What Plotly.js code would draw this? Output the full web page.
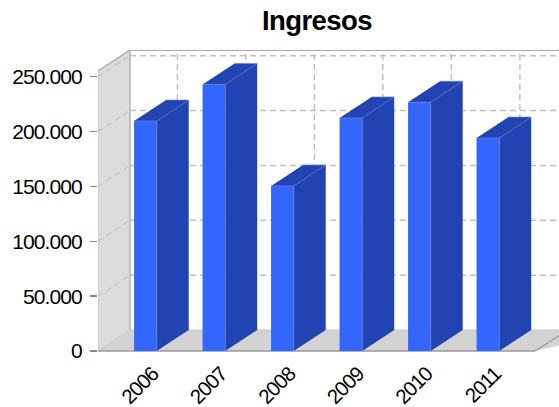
<!DOCTYPE html>
<html><head><meta charset="utf-8">
<script src="https://cdn.plot.ly/plotly-3.0.1.min.js"></script>
<style>html,body{margin:0;padding:0;background:#fff}
.xtick text,.ytick text{letter-spacing:-0.9px}
.gtitle{letter-spacing:-0.6px}</style></head>
<body><div id="chart" style="width:559px;height:407px"></div>
<script>
const years = [2006, 2007, 2008, 2009, 2010, 2011];
const ingresos = [209600, 243000, 150400, 212400, 226700, 194100];
const yTickVals = [0, 50000, 100000, 150000, 200000, 250000];
const yTickText = ['0', '50.000', '100.000', '150.000', '200.000', '250.000'];

const depthX = 0.467, depthY = 19140, barW = 0.331;
const xL = 2005.308, xR = 2011.692, yTopFront = 255200;
const xMax = xL + 461 / 68.5, yMin = -1800, yMax = yTopFront + depthY;

function pathOf(pts) { return 'M' + pts.map(p => p[0] + ',' + p[1]).join('L') + 'Z'; }
const shapes = [];
const fillShape = (pts, color) => shapes.push({ type: 'path', xref: 'x', yref: 'y', layer: 'below', path: pathOf(pts), fillcolor: color, line: { width: 0 } });
const lineShape = (x0, y0, x1, y1, color, width, dash) => shapes.push({ type: 'line', xref: 'x', yref: 'y', layer: 'below', x0, y0, x1, y1, line: { color, width, dash: dash || 'solid' } });

fillShape([[xL, 0], [xL + depthX, depthY], [xL + depthX, yMax], [xL, yTopFront]], '#dcdcdc');
fillShape([[xL, 0], [xL + depthX, depthY], [xMax + 1, depthY], [xR, 0]], '#d3d3d3');
const gridDash = '6px,4px';
yTickVals.slice(1).forEach(v => {
  lineShape(xL + depthX, v + depthY, xMax, v + depthY, '#c0c0c0', 1.5, gridDash);
  lineShape(xL, v, xL + depthX, v + depthY, '#c4c4c4', 1.2, gridDash);
});
years.forEach(y => lineShape(y + depthX, depthY, y + depthX, yMax, '#c0c0c0', 1.5, gridDash));
lineShape(xL + depthX, depthY, xL + depthX, yMax, '#b4b4b4', 1.5);
lineShape(xL, yTopFront, xL + depthX, yMax, '#a8a8a8', 1.2);
lineShape(xL + depthX, yMax, xMax, yMax, '#a8a8a8', 1.8);
lineShape(xL, 0, xL + depthX, depthY, '#c8c8d0', 1);
lineShape(xL + depthX, depthY, xMax, depthY, '#c8c8c8', 1);
lineShape(xL, 0, xR, 0, '#989898', 1.5);
lineShape(xR, 0, xR + depthX, depthY, '#989898', 1.2);
lineShape(xL, 0, xL, yTopFront, '#c4c4c4', 1);

const sideX = [], sideY = [], edgeX = [], edgeY = [];
years.forEach((yr, i) => {
  const l = yr - barW / 2, r = yr + barW / 2, v = ingresos[i];
  sideX.push(r, r + depthX, r + depthX, r, r, null);
  sideY.push(0, depthY, v + depthY, v, 0, null);
  sideX.push(l, l + depthX, r + depthX, r, l, null);
  sideY.push(v, v + depthY, v + depthY, v, v, null);
  edgeX.push(r, r, null, l, r, null, r, r + depthX, null, l + depthX, r + depthX, null);
  edgeY.push(0, v, null, v, v, null, v, v + depthY, null, v + depthY, v + depthY, null);
});

const traces = [
  { type: 'bar', x: years, y: ingresos, width: barW, marker: { color: '#3366ff', line: { width: 0 } }, hoverinfo: 'x+y' },
  { type: 'scatter', mode: 'lines', x: sideX, y: sideY, fill: 'toself', fillcolor: '#2244b2', line: { width: 0, color: '#2244b2' }, hoverinfo: 'skip' },
  { type: 'scatter', mode: 'lines', x: edgeX, y: edgeY, line: { width: 0.7, color: '#6a84d4' }, hoverinfo: 'skip' }
];

const layout = {
  width: 559, height: 407, autosize: false, showlegend: false,
  paper_bgcolor: '#fff', plot_bgcolor: '#fff',
  margin: { l: 98, r: 0, t: 50, b: 54, pad: 0 },
  font: { family: '"Liberation Sans", Arial, sans-serif', color: '#000' },
  title: { text: '<b>Ingresos</b>', font: { size: 27.5, color: '#000' }, x: 317 / 559, xanchor: 'center', y: 1 - 20.5 / 407, yanchor: 'middle' },
  xaxis: { range: [xL, xMax], tickvals: years, ticktext: years.map(String), tickangle: -45, ticks: '', showgrid: false, zeroline: false, showline: false, tickfont: { size: 20.5 }, ticklabelstandoff: 4, ticklabelshift: 7 },
  yaxis: { range: [yMin, yMax], tickvals: yTickVals, ticktext: yTickText, ticks: 'outside', ticklen: 7, tickwidth: 1.5, tickcolor: '#888', showgrid: false, zeroline: false, showline: false, tickfont: { size: 21 }, ticklabelstandoff: 4 },
  shapes
};
Plotly.newPlot('chart', traces, layout, { displayModeBar: false, staticPlot: true });
</script></body></html>
